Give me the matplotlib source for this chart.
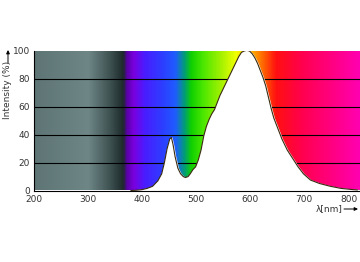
import numpy as np
import matplotlib.pyplot as plt
from matplotlib.colors import LinearSegmentedColormap

# LED emission spectrum
wavelength = [380, 390, 400, 410, 420, 430, 437, 442, 447, 452, 455, 458, 462, 467, 472, 477,
              481, 486, 490, 495, 500, 505, 510, 515, 520, 525, 530, 535, 540, 545, 550, 555,
              560, 565, 570, 575, 580, 585, 590, 595, 600, 605, 610, 615, 620, 625, 630, 635,
              640, 645, 650, 655, 660, 665, 670, 675, 680, 685, 690, 700, 713, 730, 750, 770,
              790, 800]
intensity = [0, 0.2, 0.6, 1.5, 3, 7, 12, 20, 30, 37, 38, 33, 24, 16, 12, 10,
             9.3, 10, 12, 15, 17, 22, 29, 39, 46, 51, 55, 58, 63, 68, 72, 76,
             80, 84, 88, 92, 96, 99, 100, 100.5, 100, 98, 95, 91, 86, 81, 75, 67,
             59, 52, 47, 42, 37, 33, 29, 26, 23, 20, 17, 12, 7.5, 5, 3, 1.5,
             0.7, 0.4]

x_ticks = [200, 300, 400, 500, 600, 700, 800]
y_ticks = [0, 20, 40, 60, 80, 100]

# background colour stops (nm, colour)
stop_nm = [200, 300, 340, 365, 372, 385, 405, 440, 462, 480, 492, 515, 545, 575, 600, 625, 650, 700, 805]
stop_col = ['#5f7575', '#6e8686', '#3f5252', '#1c2a2a', '#5a00a8', '#7a00e0', '#4a1cff', '#2c40ff',
            '#1f5cff', '#00a070', '#10d000', '#4ee800', '#9cf000', '#f0ff00', '#ffc000', '#ff6a00',
            '#ff1010', '#ff0050', '#ff00b0']

xmin, xmax = 200, 805
pos = [(v - xmin) / (xmax - xmin) for v in stop_nm]
cmap = LinearSegmentedColormap.from_list('spec', list(zip(pos, stop_col)))

fig = plt.figure(figsize=(3.6, 2.62), dpi=100)
ax = fig.add_axes([34 / 360, (262 - 190.5) / 262, (360 - 34) / 360, 139.5 / 262])

grad = np.linspace(0, 1, 600).reshape(1, -1)
ax.imshow(grad, cmap=cmap, aspect='auto', extent=[xmin, xmax, 0, 100], zorder=0)

for y in y_ticks[1:-1]:
    ax.axhline(y, color='black', lw=0.8, zorder=1)

ax.fill_between(wavelength, intensity, 0, color='white', zorder=2)
ax.plot(wavelength, intensity, color='#3a2a10', lw=0.8, zorder=3)

ax.set_xlim(xmin, xmax)
ax.set_ylim(0, 100)
ax.set_xticks(x_ticks, [str(v) for v in x_ticks[:-1]] + [''])
ax.set_yticks(y_ticks)
ax.tick_params(length=0, labelsize=6.5, pad=3, colors='#333333')
# last label pushed left so it stays inside the figure
ax.annotate(str(x_ticks[-1]), xy=(xmax, 0), xycoords=('data', 'axes fraction'),
            xytext=(-1.5, -3), textcoords='offset points', ha='right', va='top',
            fontsize=6.5, color='#333333')
for s in ['top', 'right']:
    ax.spines[s].set_visible(False)
for s in ['left', 'bottom']:
    ax.spines[s].set_linewidth(0.8)

fig.text(8 / 360, 1 - 90 / 262, 'Intensity (%)', rotation=90, ha='center', va='center',
         fontsize=6.5, color='#333333')
fig.text(343 / 360, 1 - 209 / 262, 'λ[nm]', ha='right', va='center', fontsize=6.5, color='#333333')
ax.annotate('', xy=(8 / 360, 1 - 50 / 262), xytext=(8 / 360, 1 - 63 / 262), xycoords='figure fraction',
            arrowprops=dict(arrowstyle='-|>', color='black', lw=0.7, mutation_scale=5,
                            shrinkA=0, shrinkB=0))
ax.annotate('', xy=(358 / 360, 1 - 209 / 262), xytext=(344 / 360, 1 - 209 / 262), xycoords='figure fraction',
            arrowprops=dict(arrowstyle='-|>', color='black', lw=0.7, mutation_scale=5,
                            shrinkA=0, shrinkB=0))

fig.savefig('out.png', dpi=100)
